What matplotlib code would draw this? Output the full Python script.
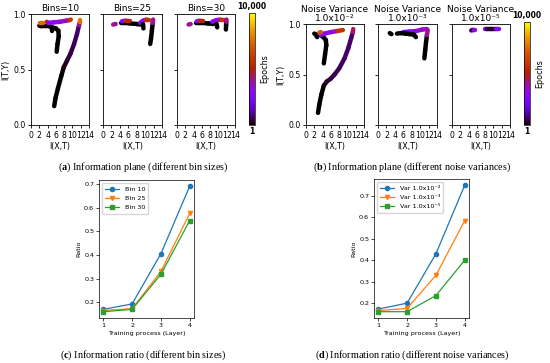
import matplotlib
matplotlib.use("Agg")
import matplotlib.pyplot as plt
from matplotlib.collections import LineCollection
from matplotlib.cm import ScalarMappable
import numpy as np

plt.rcParams['mathtext.fontset'] = 'custom'
plt.rcParams['mathtext.rm'] = 'Liberation Serif'
plt.rcParams['mathtext.bf'] = 'Liberation Serif:bold'

# information plane trajectories: (I(X,T), I(T,Y), epoch) per layer
bins10 = [
    ([5.6, 5.9, 6.5, 7.3, 7.9, 8.7, 9.5, 10.4, 11.1, 11.6, 11.8, 11.8],
     [0.17, 0.24, 0.33, 0.44, 0.52, 0.58, 0.64, 0.73, 0.82, 0.90, 0.93, 0.95],
     [1, 2, 5, 10, 20, 300, 450, 550, 650, 750, 7000, 8500]),
    ([6.2, 6.4, 6.7, 6.6, 6.0, 5.0, 4.4, 3.5, 2.5, 2.0],
     [0.66, 0.73, 0.80, 0.85, 0.87, 0.88, 0.89, 0.89, 0.89, 0.895],
     [1, 3, 8, 15, 25, 35, 45, 60, 90, 120]),
    ([5.0, 5.0], [0.88, 0.85], [30, 40]),
    ([2.1, 2.8], [0.915, 0.915], [7000, 8000]),
    ([3.8, 4.2, 5.5, 7.0, 8.5, 9.3, 9.6],
     [0.93, 0.92, 0.925, 0.93, 0.94, 0.945, 0.95],
     [8000, 2500, 3000, 3300, 3600, 4000, 8000]),
]
bins25 = [
    ([2.4, 3.0], [0.905, 0.91], [20, 8000]),
    ([4.2, 5.0, 6.5, 8.0, 8.8], [0.92, 0.92, 0.915, 0.91, 0.905], [15, 20, 25, 30, 35]),
    ([4.5, 5.5, 6.5], [0.935, 0.94, 0.94], [2500, 3000, 7500]),
    ([8.8, 9.5, 10.3, 11.0], [0.92, 0.94, 0.95, 0.95], [2500, 3000, 3500, 8000]),
    ([9.5, 9.6], [0.91, 0.87], [30, 35]),
    ([11.2, 11.4, 11.6, 11.8, 11.9], [0.73, 0.78, 0.85, 0.92, 0.95], [1, 3, 8, 20, 8000]),
]
bins30 = [
    ([2.8, 3.3], [0.905, 0.91], [20, 8000]),
    ([4.5, 6.0, 7.5, 8.8], [0.92, 0.92, 0.915, 0.91], [15, 20, 25, 30]),
    ([4.8, 5.5, 6.3], [0.935, 0.94, 0.94], [2500, 3000, 7500]),
    ([8.5, 9.5, 10.5, 11.4], [0.93, 0.945, 0.95, 0.95], [2500, 3000, 3500, 8000]),
    ([9.6, 9.7], [0.91, 0.88], [30, 35]),
    ([11.8, 11.85, 11.9, 11.95], [0.86, 0.90, 0.93, 0.95], [1, 5, 20, 8000]),
]
noise2 = [
    ([2.9, 3.2, 3.7, 4.3, 5.0, 6.0, 6.9, 8.0, 9.3, 10.2, 10.9, 11.3, 11.4],
     [0.12, 0.20, 0.30, 0.39, 0.43, 0.46, 0.50, 0.56, 0.66, 0.76, 0.86, 0.92, 0.95],
     [1, 2, 5, 10, 300, 450, 550, 600, 650, 700, 750, 900, 8000]),
    ([4.3, 4.6, 4.9, 4.8, 4.2, 3.8], [0.61, 0.70, 0.79, 0.84, 0.87, 0.88], [1, 5, 10, 20, 30, 40]),
    ([3.3, 4.5, 6.0, 7.5, 8.9], [0.89, 0.905, 0.92, 0.93, 0.94], [2500, 2800, 3100, 3500, 8000]),
    ([3.2, 3.6], [0.915, 0.92], [6000, 8000]),
    ([2.0, 2.3], [0.905, 0.90], [20, 30]),
    ([2.5, 2.7], [0.88, 0.87], [20, 30]),
]
noise3 = [
    ([11.0, 11.2, 11.4, 11.6, 11.8], [0.66, 0.74, 0.82, 0.89, 0.94], [1, 5, 15, 30, 8000]),
    ([6.0, 7.5, 9.0, 10.5, 11.6], [0.92, 0.925, 0.93, 0.945, 0.95], [2500, 2800, 3200, 3500, 4000]),
    ([4.5, 5.5, 6.5, 7.5, 8.5, 9.0], [0.905, 0.91, 0.905, 0.90, 0.895, 0.87], [10, 15, 20, 25, 30, 35]),
    ([2.8, 3.2], [0.91, 0.90], [20, 30]),
]
noise5 = [
    ([4.6, 4.9, 5.3, 5.6], [0.935, 0.94, 0.94, 0.94], [6000, 300, 300, 6000]),
    ([7.9, 8.5, 9.5, 10.5, 11.3], [0.95, 0.95, 0.95, 0.95, 0.95], [5000, 300, 300, 300, 5000]),
]

bin_titles = ["Bins=10", "Bins=25", "Bins=30"]
noise_titles = ["Noise Variance\n1.0x10\u207b\u00b2", "Noise Variance\n1.0x10\u207b\u00b3",
                "Noise Variance\n1.0x10\u207b\u2075"]

# information ratio per layer
layers = [1, 2, 3, 4]
ratio_bin10 = [0.170, 0.193, 0.405, 0.690]
ratio_bin25 = [0.165, 0.173, 0.330, 0.575]
ratio_bin30 = [0.160, 0.170, 0.318, 0.545]
ratio_var2 = [0.172, 0.200, 0.430, 0.750]
ratio_var3 = [0.165, 0.175, 0.330, 0.585]
ratio_var5 = [0.160, 0.160, 0.235, 0.400]

W, H = 550, 363
fig = plt.figure(figsize=(W / 100, H / 100), dpi=100)
cmap = plt.get_cmap('gnuplot')
norm = plt.Normalize(1, 10000)


def px(l, t, r, b):
    return [l / W, 1 - b / H, (r - l) / W, (b - t) / H]


def info_plane(ax, trajs, title, first):
    for xs, ys, eps in trajs:
        pts = np.column_stack([xs, ys])
        segs = np.stack([pts[:-1], pts[1:]], axis=1)
        c = [(eps[i] + eps[i + 1]) / 2 for i in range(len(eps) - 1)]
        lc = LineCollection(segs, cmap=cmap, norm=norm, linewidths=3.2, capstyle='round')
        lc.set_array(np.array(c))
        ax.add_collection(lc)
    ax.set_xlim(0, 14)
    ax.set_ylim(0, 1)
    ax.set_xticks(range(0, 15, 2))
    ax.set_yticks([0, 0.5, 1.0])
    ax.tick_params(labelsize=5.6, length=2.5, width=0.6, pad=1.5)
    if first:
        ax.set_yticklabels(["0.0", "0.5", "1.0"])
        ax.set_ylabel("I(T,Y)", fontsize=5.8, labelpad=2)
    else:
        ax.set_yticklabels([])
    ax.set_xlabel("I(X,T)", fontsize=5.8, labelpad=2)
    ax.set_title(title, fontsize=6.5, pad=2, linespacing=1.0)
    for s in ax.spines.values():
        s.set_linewidth(0.6)


def colorbar(rect):
    cax = fig.add_axes(rect)
    cb = fig.colorbar(ScalarMappable(norm=norm, cmap=cmap), cax=cax, ticks=[])
    cb.outline.set_linewidth(0.5)
    cax.text(0.5, 1.02, "10,000", transform=cax.transAxes, ha='center', va='bottom',
             fontsize=5.5, fontweight='bold')
    cax.text(0.5, -0.02, "1", transform=cax.transAxes, ha='center', va='top',
             fontsize=5.5, fontweight='bold')
    cax.text(2.6, 0.5, "Epochs", transform=cax.transAxes, ha='center', va='center',
             rotation=90, fontsize=5.8)


a_rects = [(31, 14, 89, 125), (103, 14, 162, 125), (177, 14, 235, 125)]
for i, (trajs, rect) in enumerate(zip([bins10, bins25, bins30], a_rects)):
    info_plane(fig.add_axes(px(*rect)), trajs, bin_titles[i], i == 0)
colorbar(px(249, 13, 255, 125))

b_rects = [(306, 24, 364, 125), (378, 24, 437, 125), (452, 24, 510, 125)]
for i, (trajs, rect) in enumerate(zip([noise2, noise3, noise5], b_rects)):
    info_plane(fig.add_axes(px(*rect)), trajs, noise_titles[i], i == 0)
colorbar(px(524, 22, 530, 125))


def ratio_plot(ax, series, labels):
    colors = ['#1f77b4', '#ff7f0e', '#2ca02c']
    markers = ['o', 'v', 's']
    for vals, lab, col, mk in zip(series, labels, colors, markers):
        ax.plot(layers, vals, color=col, marker=mk, markersize=3, linewidth=0.9, label=lab)
    ax.set_xticks(layers)
    ax.tick_params(labelsize=4.6, length=2, width=0.5, pad=1.5)
    ax.set_xlabel("Training process (Layer)", fontsize=4.6, labelpad=2)
    ax.set_ylabel("Ratio", fontsize=4.6, labelpad=2)
    ax.legend(loc='upper left', fontsize=4.6, handlelength=2.2, borderpad=0.5,
              labelspacing=0.6, frameon=True, framealpha=0.8)
    for s in ax.spines.values():
        s.set_linewidth(0.5)


ratio_plot(fig.add_axes(px(99, 180, 194, 318)), [ratio_bin10, ratio_bin25, ratio_bin30],
           ["Bin 10", "Bin 25", "Bin 30"])
ratio_plot(fig.add_axes(px(374, 179, 469, 318)), [ratio_var2, ratio_var3, ratio_var5],
           ["Var 1.0x10\u207b\u00b2", "Var 1.0x10\u207b\u00b3", "Var 1.0x10\u207b\u2075"])

captions = [
    (143, 167, r"($\mathbf{a}$) Information plane (different bin sizes)"),
    (412, 167, r"($\mathbf{b}$) Information plane (different noise variances)"),
    (143, 355, r"($\mathbf{c}$) Information ratio (different bin sizes)"),
    (412, 355, r"($\mathbf{d}$) Information ratio (different noise variances)"),
]
for x, y, s in captions:
    fig.text(x / W, 1 - y / H, s, ha='center', va='center', fontsize=7.3, family='Liberation Serif')

fig.savefig("out.png", dpi=100)
